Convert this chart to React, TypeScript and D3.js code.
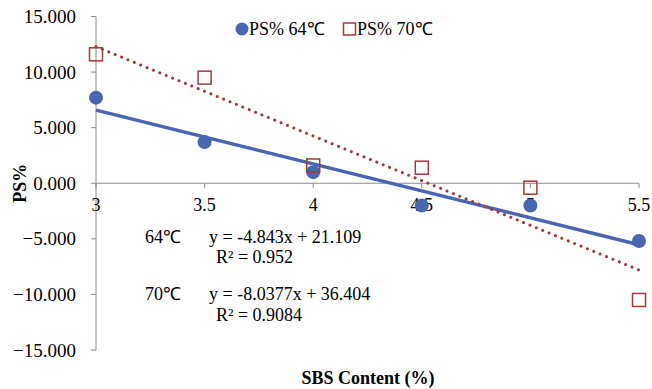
import React from "react";
import * as d3 from "d3";

const sbs = [3, 3.5, 4, 4.5, 5, 5.5];
const ps64 = [7.7, 3.7, 1.0, -2.0, -2.0, -5.2];
const ps70 = [11.6, 9.5, 1.6, 1.4, -0.4, -10.5];
const fit64 = [-4.843, 21.109];
const fit70 = [-8.0377, 36.404];
const yTicks = [-15, -10, -5, 0, 5, 10, 15];
const xTicks = [3, 3.5, 4, 4.5, 5, 5.5];
const seriesNames = ["PS% 64℃", "PS% 70℃"];

const W = 652, H = 389;
const BLUE = "#4a66b0";
const RED = "#a33a3a";
const FONT = "'Liberation Serif', 'Times New Roman', serif";

export default function App() {
  const x = d3.scaleLinear().domain([3, 5.5]).range([96, 639]);
  const y = d3.scaleLinear().domain([-15, 15]).range([350, 16.5]);
  const fitLine = (f: number[]) =>
    d3.line<number>().x(v => x(v)).y(v => y(f[0] * v + f[1]))([3, 5.5]) || "";
  const fmt = d3.format(".3f");
  return (
    <svg width={W} height={H} style={{ position: "absolute", left: 0, top: 0, background: "#fff" }}
      fontFamily={FONT}>
      {/* y axis */}
      <line x1={x(3)} x2={x(3)} y1={y(15)} y2={y(-15)} stroke="#8c8c8c" strokeWidth={1} />
      {yTicks.map(t => (
        <g key={t}>
          <line x1={x(3) - 5} x2={x(3)} y1={y(t)} y2={y(t)} stroke="#8c8c8c" />
          <text x={76} y={y(t)} dy="0.35em" textAnchor="end" fontSize={19}>{fmt(t)}</text>
        </g>
      ))}
      {/* x axis */}
      <line x1={x(3)} x2={x(5.5)} y1={y(0)} y2={y(0)} stroke="#8c8c8c" />
      {xTicks.map(t => (
        <g key={t}>
          <line x1={x(t)} x2={x(t)} y1={y(0)} y2={y(0) + 5} stroke="#8c8c8c" />
          <text x={x(t)} y={y(0) + 28} textAnchor="middle" fontSize={18}>{String(t)}</text>
        </g>
      ))}
      {/* trendlines */}
      <path d={fitLine(fit64)} stroke={BLUE} strokeWidth={3.5} fill="none" />
      <path d={fitLine(fit70)} stroke={RED} strokeWidth={3} fill="none"
        strokeDasharray="0.1 6.8" strokeLinecap="round" />
      {/* points */}
      {sbs.map((v, i) => (
        <circle key={"c" + i} cx={x(v)} cy={y(ps64[i])} r={7} fill={BLUE} />
      ))}
      {sbs.map((v, i) => (
        <rect key={"r" + i} x={x(v) - 6.5} y={y(ps70[i]) - 6.5} width={13} height={13}
          fill="none" stroke={RED} strokeWidth={1.5} />
      ))}
      {/* legend */}
      <circle cx={242} cy={29} r={6.5} fill={BLUE} />
      <text x={249} y={29} dy="0.35em" fontSize={18}>{seriesNames[0]}</text>
      <rect x={343.5} y={23} width={12} height={12} fill="none" stroke={RED} strokeWidth={1.5} />
      <text x={357} y={29} dy="0.35em" fontSize={18}>{seriesNames[1]}</text>
      {/* equations */}
      <text x={145} y={243} fontSize={18}>64℃</text>
      <text x={209} y={243} fontSize={18}>y = -4.843x + 21.109</text>
      <text x={216} y={263} fontSize={18}>R² = 0.952</text>
      <text x={145} y={300} fontSize={18}>70℃</text>
      <text x={209} y={300} fontSize={18}>y = -8.0377x + 36.404</text>
      <text x={216} y={321} fontSize={18}>R² = 0.9084</text>
      {/* axis titles */}
      <text x={368} y={384} textAnchor="middle" fontSize={18} fontWeight="bold">SBS Content (%)</text>
      <text transform={`translate(26,${y(0)}) rotate(-90)`} textAnchor="middle" fontSize={18}
        fontWeight="bold">PS%</text>
    </svg>
  );
}
